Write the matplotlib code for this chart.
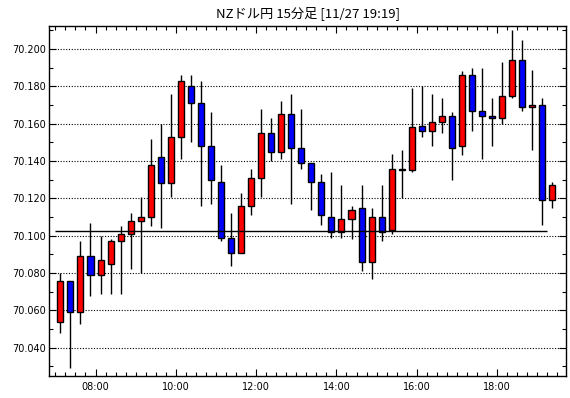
import numpy as np
import pandas as pd
import matplotlib
matplotlib.use("Agg")
import matplotlib.pyplot as plt
from matplotlib.ticker import MultipleLocator, FuncFormatter

# 15 minute candles, 07:00 .. 19:15
times = pd.date_range("2023-11-27 07:00", periods=50, freq="15min")

opens = [70.054, 70.076, 70.059, 70.089, 70.079, 70.085, 70.097, 70.101, 70.108, 70.110,
         70.142, 70.128, 70.153, 70.180, 70.171, 70.148, 70.129, 70.099, 70.091, 70.116,
         70.131, 70.155, 70.145, 70.165, 70.147, 70.139, 70.129, 70.110, 70.102, 70.109,
         70.115, 70.086, 70.110, 70.103, 70.136, 70.135, 70.159, 70.156, 70.161, 70.164,
         70.148, 70.186, 70.167, 70.164, 70.163, 70.175, 70.194, 70.169, 70.170, 70.119]
highs = [70.080, 70.076, 70.097, 70.107, 70.100, 70.098, 70.105, 70.112, 70.121, 70.152,
         70.160, 70.176, 70.186, 70.186, 70.183, 70.166, 70.138, 70.112, 70.123, 70.136,
         70.168, 70.163, 70.172, 70.176, 70.168, 70.139, 70.133, 70.134, 70.127, 70.116,
         70.127, 70.115, 70.127, 70.144, 70.146, 70.179, 70.180, 70.176, 70.174, 70.166,
         70.188, 70.190, 70.190, 70.174, 70.193, 70.210, 70.205, 70.189, 70.174, 70.129]
lows = [70.048, 70.029, 70.053, 70.068, 70.069, 70.069, 70.069, 70.082, 70.080, 70.105,
        70.104, 70.121, 70.141, 70.150, 70.116, 70.117, 70.097, 70.084, 70.091, 70.111,
        70.121, 70.140, 70.141, 70.117, 70.136, 70.114, 70.106, 70.099, 70.099, 70.098,
        70.081, 70.077, 70.097, 70.101, 70.120, 70.134, 70.153, 70.148, 70.155, 70.130,
        70.143, 70.156, 70.141, 70.148, 70.160, 70.174, 70.167, 70.146, 70.106, 70.115]
closes = [70.076, 70.059, 70.089, 70.079, 70.087, 70.097, 70.101, 70.108, 70.110, 70.138,
          70.128, 70.153, 70.183, 70.171, 70.148, 70.130, 70.099, 70.091, 70.116, 70.131,
          70.155, 70.145, 70.165, 70.147, 70.139, 70.129, 70.111, 70.102, 70.109, 70.114,
          70.086, 70.110, 70.102, 70.136, 70.135, 70.158, 70.156, 70.161, 70.164, 70.147,
          70.186, 70.167, 70.164, 70.163, 70.175, 70.194, 70.169, 70.170, 70.119, 70.127]

ref_level = 70.1024
title = "NZドル円 15分足 [11/27 19:19]"

# minutes since midnight, candle drawn in the middle of its period
mins = np.array([t.hour * 60 + t.minute for t in times], dtype=float)
xc = mins + 7.5
o = np.array(opens)
c = np.array(closes)
colors = ["#ff0000" if cc >= oo else "#0000ff" for oo, cc in zip(o, c)]

fig = plt.figure(figsize=(5.7, 3.98), dpi=100)
ax = fig.add_axes([49 / 570, 1 - 376 / 398, 517 / 570, 350 / 398])

ax.vlines(xc, lows, highs, color="black", linewidth=1, zorder=2)
ax.bar(xc, c - o, bottom=o, width=9, color=colors, edgecolor="black",
       linewidth=1, zorder=3)
ax.hlines(ref_level, mins[0], mins[-1], color="black", linewidth=1, zorder=4)

ax.set_xlim(410.5, 1183)
ax.set_ylim(70.0249, 70.2123)

ax.xaxis.set_major_locator(MultipleLocator(120))
ax.xaxis.set_minor_locator(MultipleLocator(15))
ax.xaxis.set_major_formatter(FuncFormatter(lambda v, p: "%02d:%02d" % (int(v) // 60, int(v) % 60)))
ax.yaxis.set_major_locator(MultipleLocator(0.02))
ax.yaxis.set_minor_locator(MultipleLocator(0.01))
ax.yaxis.set_major_formatter(FuncFormatter(lambda v, p: "%.3f" % v))

ax.tick_params(which="both", direction="in", top=True, right=True, labelsize=7,
               color="black", width=0.8)
ax.tick_params(which="major", length=5, pad=2)
ax.tick_params(which="minor", length=3)
ax.tick_params(axis="x", pad=4)

ax.grid(axis="y", which="major", color="black", linestyle=(0, (1, 1.5)), linewidth=0.8)
ax.set_axisbelow(True)
for s in ax.spines.values():
    s.set_linewidth(1)

fig.text((49 + 566) / 2 / 570, 1 - 13 / 398, title, ha="center", va="center",
         fontsize=9.5, family=["Noto Sans CJK JP", "DejaVu Sans"])

fig.savefig("out.png", dpi=100, facecolor="white")
